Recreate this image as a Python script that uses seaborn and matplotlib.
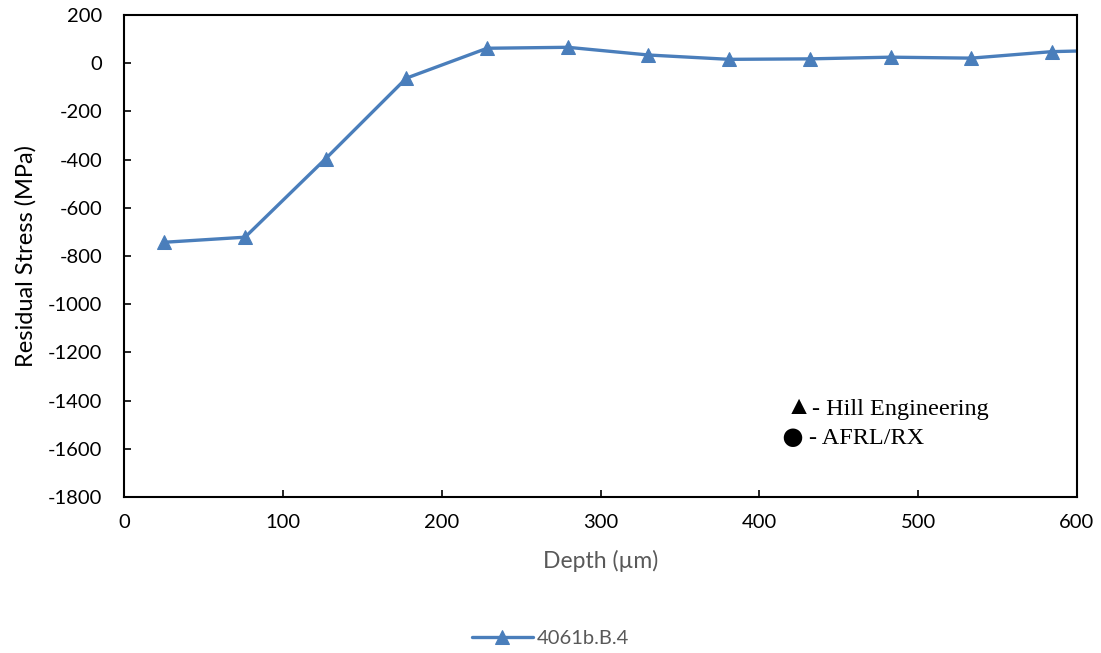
import matplotlib
matplotlib.use("Agg")
import matplotlib.pyplot as plt
import seaborn as sns
import pandas as pd

depth_um = [25.4, 76.2, 127.0, 177.8, 228.6, 279.4, 330.2, 381.0, 431.8, 482.6, 533.4, 584.2, 635.0]
stress_mpa = [-743, -722, -396, -62, 62, 66, 34, 16, 18, 25, 21, 48, 56]
series_name = "4061b.B.4"
x_ticks = [0, 100, 200, 300, 400, 500, 600]
y_ticks = [200, 0, -200, -400, -600, -800, -1000, -1200, -1400, -1600, -1800]

sns.set_theme(style="white")
plt.rcParams['font.family'] = ['Lato', 'DejaVu Sans']

df = pd.DataFrame({"Depth": depth_um, "Stress": stress_mpa})

fig = plt.figure(figsize=(11.01, 6.53), dpi=100)
ax = fig.add_axes([124/1101, 1-497/653, (1077-124)/1101, (497-15)/653])

color = "#4a7ebb"
sns.lineplot(data=df, x="Depth", y="Stress", ax=ax, color=color, linewidth=2.4,
             marker="^", markersize=10, markeredgecolor=color, markerfacecolor=color,
             label=series_name, legend=False, sort=False, clip_on=True)

ax.set_xlim(0, 600)
ax.set_ylim(-1800, 200)
ax.set_xticks(x_ticks)
ax.set_yticks(y_ticks)
ax.set_xticklabels([str(v) for v in x_ticks], fontsize=14.5, color="black")
ax.set_yticklabels([str(v) for v in y_ticks], fontsize=14.5, color="black")
ax.tick_params(axis="both", direction="in", length=5, width=1.2, color="black",
               left=True, bottom=True)
ax.tick_params(axis="y", pad=15.5)
ax.tick_params(axis="x", pad=12)
for s in ax.spines.values():
    s.set_visible(True)
    s.set_color("black")
    s.set_linewidth(1.5)
ax.grid(False)

ax.set_xlabel("Depth (µm)", fontsize=16.5, color="#595959", labelpad=14)
ax.set_ylabel("Residual Stress (MPa)", fontsize=17, color="black", labelpad=8)

serif = ['Liberation Serif', 'DejaVu Serif']
fig.text(786/1101, 1-408/653, "▲", family=serif, fontsize=19,
         va="center", ha="left", color="black")
fig.text(812/1101, 1-409/653, "- Hill Engineering", family=serif, fontsize=17.5,
         va="center", ha="left", color="black")
fig.text(779/1101, 1-440/653, "●", family=serif, fontsize=31,
         va="center", ha="left", color="black")
fig.text(809/1101, 1-439/653, "- AFRL/RX", family=serif, fontsize=17.5,
         va="center", ha="left", color="black")

handles, labels = ax.get_legend_handles_labels()
leg = fig.legend(handles, labels, loc="center", bbox_to_anchor=(0.5, 1-638/653),
                 frameon=False, fontsize=14.5, handlelength=3, handletextpad=0.2)
for t in leg.get_texts():
    t.set_color("#595959")

fig.savefig("out.png", dpi=100)
